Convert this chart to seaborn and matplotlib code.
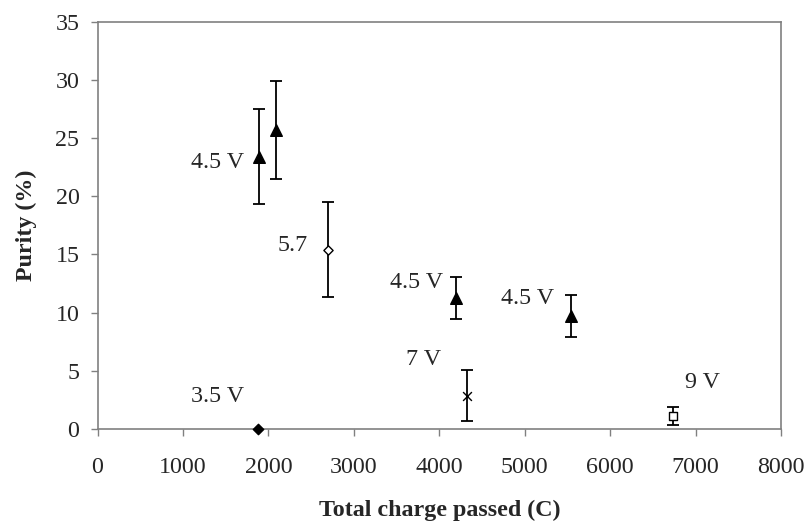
import pandas as pd
import numpy as np
import matplotlib
matplotlib.use('Agg')
import matplotlib.pyplot as plt
import seaborn as sns

# data
charge = [1895, 2090, 2700, 4200, 5540, 4330, 6735, 1880]
purity = [23.4, 25.7, 15.4, 11.25, 9.7, 2.85, 1.1, 0.0]
err = [4.1, 4.2, 4.1, 1.8, 1.8, 2.2, 0.75, 0.0]
group = ['tri', 'tri', 'open_dia', 'tri', 'tri', 'cross', 'open_sq', 'dia']

label_text = ['4.5 V', '5.7', '4.5 V', '4.5 V', '7 V', '9 V', '3.5 V']
label_x = [1400, 2280, 3730, 5030, 3820, 7080, 1400]
label_y = [22.9, 15.8, 12.55, 11.2, 6.0, 3.95, 2.75]

df = pd.DataFrame({'charge': charge, 'purity': purity, 'err': err, 'group': group})

sns.set_style("white")
plt.rcParams['font.family'] = ['Liberation Serif', 'DejaVu Serif']

fig = plt.figure(figsize=(8.06, 5.21), dpi=100)
ax = fig.add_axes([0.121, 0.177, 0.848, 0.781])

# error bars
eb = df[df['err'] > 0]
ax.errorbar(eb['charge'], eb['purity'], yerr=eb['err'], fmt='none',
            ecolor='black', elinewidth=1.3, capsize=4.5, capthick=1.3, zorder=2)

styles = {
    'tri': dict(marker='^', color='black', edgecolor='black', s=70),
    'open_dia': dict(marker='D', color='white', edgecolor='black', s=22),
    'cross': dict(marker='x', color='black', s=40),
    'open_sq': dict(marker='s', color='white', edgecolor='black', s=28),
    'dia': dict(marker='D', color='black', edgecolor='black', s=28),
}
for g, kw in styles.items():
    sub = df[df['group'] == g]
    sns.scatterplot(data=sub, x='charge', y='purity', ax=ax, linewidth=1,
                    zorder=3, legend=False, clip_on=False, **kw)

for t, x, y in zip(label_text, label_x, label_y):
    ax.text(x, y, t, ha='center', va='center', fontsize=17.3)

ax.set_xlim(0, 8000)
ax.set_ylim(0, 35)
ax.set_xticks(np.arange(0, 8001, 1000))
ax.set_yticks(np.arange(0, 36, 5))
ax.tick_params(axis='both', which='major', labelsize=17.3, length=5,
               width=1, color='#808080', direction='out', left=True, bottom=True)
ax.tick_params(axis='x', pad=15)
ax.tick_params(axis='y', pad=8)
for s in ax.spines.values():
    s.set_color('#808080')
    s.set_linewidth(1.2)

ax.set_xlabel('Total charge passed (C)', fontsize=17.3, fontweight='bold', labelpad=16)
ax.set_ylabel('Purity (%)', fontsize=17.3, fontweight='bold', labelpad=13)

fig.savefig('out.png', dpi=100)
